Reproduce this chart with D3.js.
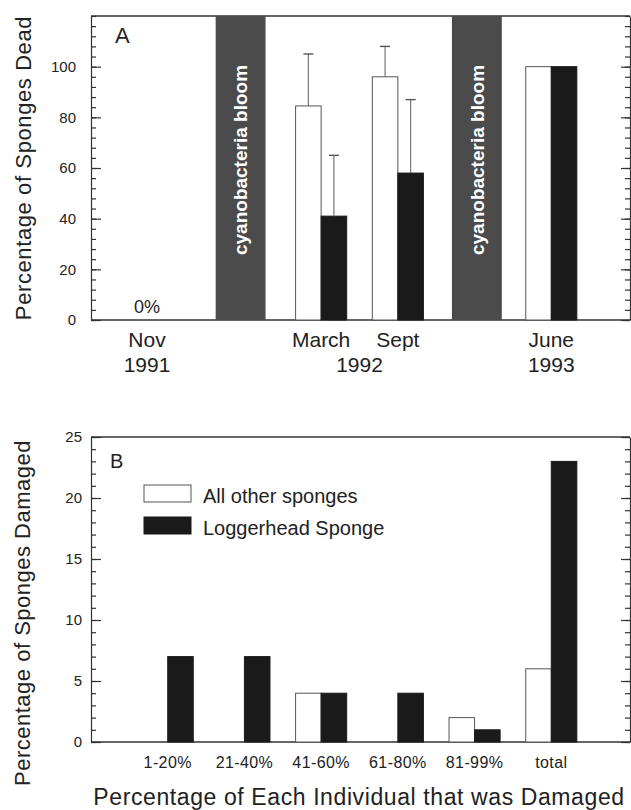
<!DOCTYPE html>
<html>
<head>
<meta charset="utf-8">
<title>Sponge mortality and damage</title>
<script src="https://cdn.jsdelivr.net/npm/d3@7"></script>
<style>
  body { margin: 0; background: #fff; }
  svg { display: block; font-family: "Liberation Sans", Arial, sans-serif; }
</style>
</head>
<body>
<div id="chart"></div>
<script>
// Panel A : mortality, surveys before and after the blooms
const months = ["Nov", "March", "Sept", "June"];
const years = ["1991", "1992", "1992", "1993"];
const sampleSlots = [0.73, 3, 4, 6];          // place of each survey on the time axis
const otherDead = [0, 84.5, 96, 100];
const otherDeadErr = [null, 105, 108, null];  // top of the error bar
const loggerDead = [0, 41, 58, 100];
const loggerDeadErr = [null, 65, 87, null];
const bloomSlots = [1.95, 5.03];
const deadTicks = [0, 20, 40, 60, 80, 100];

// Panel B : partial damage
const damageClasses = ["1-20%", "21-40%", "41-60%", "61-80%", "81-99%", "total"];
const otherDamaged = [0, 0, 4, 0, 2, 6];
const loggerDamaged = [7, 7, 4, 4, 1, 23];
const damagedTicks = [0, 5, 10, 15, 20, 25];

const seriesNames = ["All other sponges", "Loggerhead Sponge"];


/*
Draws left/right axes (ticks pointing inward) and the top/bottom lines of a panel.
*/
function draw_frame(g, y, majors, minors, labelPad, labelSize, x0, x1) {
    const yTop = y.range()[1], yBottom = y.range()[0];

    g.append("g") // left minor ticks
        .attr("transform", `translate(${x0},0)`)
        .call(d3.axisLeft(y).tickValues(minors).tickSize(-5).tickSizeOuter(0).tickFormat(""));

    g.append("g") // left major ticks + labels
        .attr("class", "major")
        .attr("transform", `translate(${x0},0)`)
        .call(d3.axisLeft(y).tickValues(majors).tickSize(-10).tickSizeOuter(0).tickPadding(labelPad))
        .call(a => a.select(".domain").remove())
        .selectAll("text")
            .style("font-size", labelSize + "px")
            .style("font-family", "Liberation Sans, Arial, sans-serif")
            .style("fill", "#222");

    g.append("g") // right minor ticks
        .attr("transform", `translate(${x1},0)`)
        .call(d3.axisRight(y).tickValues(minors).tickSize(-5).tickSizeOuter(0).tickFormat(""));

    g.append("g") // right major ticks
        .attr("transform", `translate(${x1},0)`)
        .call(d3.axisRight(y).tickValues(majors).tickSize(-9).tickSizeOuter(0).tickFormat(""))
        .call(a => a.select(".domain").remove());

    g.selectAll(".domain, .tick line")
        .style("stroke", "#333")
        .style("stroke-width", 1.2);

    g.append("line")
        .attr("x1", x0).attr("x2", x1)
        .attr("y1", yTop).attr("y2", yTop)
        .style("stroke", "#333").style("stroke-width", 1.4);

    g.append("line")
        .attr("x1", x0).attr("x2", x1)
        .attr("y1", yBottom).attr("y2", yBottom)
        .style("stroke", "#333").style("stroke-width", 1.4);
}


function draw_bar(g, x, y, w, value, fill) {
    g.append("rect")
        .attr("x", x)
        .attr("y", y(value))
        .attr("width", w)
        .attr("height", y(0) - y(value))
        .style("fill", fill)
        .style("stroke", fill == "#fff" ? "#555" : "#1a1a1a")
        .style("stroke-width", 1);
}


function draw_error(g, cx, y, value, top) {
    if (top == null) return;
    g.append("line")
        .attr("x1", cx).attr("x2", cx)
        .attr("y1", y(value)).attr("y2", y(top))
        .style("stroke", "#777").style("stroke-width", 1.2);
    g.append("line")
        .attr("x1", cx - 5).attr("x2", cx + 5)
        .attr("y1", y(top)).attr("y2", y(top))
        .style("stroke", "#555").style("stroke-width", 1.4);
}


function create_chart(id_container) {
    const width = 631,
        height = 810,
        left = 91,
        right = 628,
        frameRight = 630;

    const svg = d3.select("#" + id_container).append("svg")
        .attr("width", width)
        .attr("height", height);

    svg.append("rect")
        .attr("width", width).attr("height", height)
        .style("fill", "#fff");

    // ---------- Panel A ----------
    const x = d3.scaleLinear().domain([0, 7]).range([left, right]);
    const yA = d3.scaleLinear().domain([0, 120]).range([320, 16]);
    const unit = x(1) - x(0);
    const bw = unit * 0.333;

    const pA = svg.append("g").attr("class", "panelA");
    draw_frame(pA, yA, deadTicks, d3.range(0, 121, 4), 15, 15, left, frameRight);

    // cyanobacteria bloom bands
    bloomSlots.forEach(s => {
        pA.append("rect")
            .attr("x", x(s) - unit * 0.325)
            .attr("y", yA(120))
            .attr("width", unit * 0.65)
            .attr("height", yA(0) - yA(120))
            .style("fill", "#4b4b4b");

        pA.append("text")
            .attr("transform", `translate(${x(s)},${(yA(0) + yA(120)) / 2 - 8}) rotate(-90)`)
            .attr("text-anchor", "middle")
            .attr("dy", "0.35em")
            .style("fill", "#fff")
            .style("font-weight", "bold")
            .style("font-size", "19px")
            .text("cyanobacteria bloom");
    });

    sampleSlots.forEach((s, i) => {
        const cx = x(s);
        if (otherDead[i] == 0 && loggerDead[i] == 0) {
            pA.append("text")
                .attr("x", cx)
                .attr("y", yA(0) - 7)
                .attr("text-anchor", "middle")
                .style("font-size", "18px")
                .style("fill", "#222")
                .text("0%");
            return;
        }
        draw_bar(pA, cx - bw, yA, bw, otherDead[i], "#fff");
        draw_bar(pA, cx, yA, bw, loggerDead[i], "#1a1a1a");
        draw_error(pA, cx - bw / 2, yA, otherDead[i], otherDeadErr[i]);
        draw_error(pA, cx + bw / 2, yA, loggerDead[i], loggerDeadErr[i]);

        pA.append("text")
            .attr("x", cx).attr("y", 347)
            .attr("text-anchor", "middle")
            .style("font-size", "21px").style("fill", "#222")
            .text(months[i]);
    });

    // Nov label (no bars there)
    pA.append("text")
        .attr("x", x(sampleSlots[0])).attr("y", 347)
        .attr("text-anchor", "middle")
        .style("font-size", "21px").style("fill", "#222")
        .text(months[0]);

    // year labels, centred under their surveys
    const byYear = d3.rollups(sampleSlots.map((s, i) => ({ s: s, year: years[i] })),
        v => d3.mean(v, d => d.s), d => d.year);
    byYear.forEach(([year, s]) => {
        pA.append("text")
            .attr("x", x(s)).attr("y", 372)
            .attr("text-anchor", "middle")
            .style("font-size", "21px").style("fill", "#222")
            .text(year);
    });

    pA.append("text")
        .attr("x", 115).attr("y", 43)
        .style("font-size", "22px").style("fill", "#222")
        .text("A");

    svg.append("text")
        .attr("transform", "translate(31,168) rotate(-90)")
        .attr("text-anchor", "middle")
        .style("font-size", "22px")
        .style("letter-spacing", "0.6px")
        .style("fill", "#222")
        .text("Percentage of Sponges Dead");

    // ---------- Panel B ----------
    const xB = d3.scalePoint().domain(damageClasses).range([left, right]).padding(1);
    const yB = d3.scaleLinear().domain([0, 25]).range([742, 437]);
    const bwB = xB.step() * 0.333;

    const pB = svg.append("g").attr("class", "panelB");
    draw_frame(pB, yB, damagedTicks, d3.range(0, 26, 1), 9, 15, left, frameRight);

    damageClasses.forEach((c, i) => {
        const cx = xB(c);
        if (otherDamaged[i] > 0) draw_bar(pB, cx - bwB, yB, bwB, otherDamaged[i], "#fff");
        if (loggerDamaged[i] > 0) draw_bar(pB, cx, yB, bwB, loggerDamaged[i], "#1a1a1a");

        pB.append("text")
            .attr("x", cx).attr("y", 768)
            .attr("text-anchor", "middle")
            .style("font-size", "16px")
            .style("letter-spacing", "0.4px")
            .style("fill", "#222")
            .text(c);
    });

    pB.append("text")
        .attr("x", 110).attr("y", 468)
        .style("font-size", "20px").style("fill", "#222")
        .text("B");

    // legend
    const legend = pB.append("g").attr("transform", "translate(144, 485)");
    seriesNames.forEach((name, i) => {
        legend.append("rect")
            .attr("x", 0).attr("y", i * 32)
            .attr("width", 47).attr("height", 17)
            .style("fill", i == 0 ? "#fff" : "#1a1a1a")
            .style("stroke", i == 0 ? "#555" : "#1a1a1a");
        legend.append("text")
            .attr("x", 59).attr("y", i * 32 + 18)
            .style("font-size", "20px").style("fill", "#222")
            .text(name);
    });

    svg.append("text")
        .attr("transform", "translate(30,613) rotate(-90)")
        .attr("text-anchor", "middle")
        .style("font-size", "22px")
        .style("letter-spacing", "0.5px")
        .style("fill", "#222")
        .text("Percentage of Sponges Damaged");

    svg.append("text")
        .attr("x", 359).attr("y", 805)
        .attr("text-anchor", "middle")
        .style("font-size", "23px")
        .style("letter-spacing", "0.6px")
        .style("fill", "#222")
        .text("Percentage of Each Individual that was Damaged");
}

create_chart("chart");
</script>
</body>
</html>
